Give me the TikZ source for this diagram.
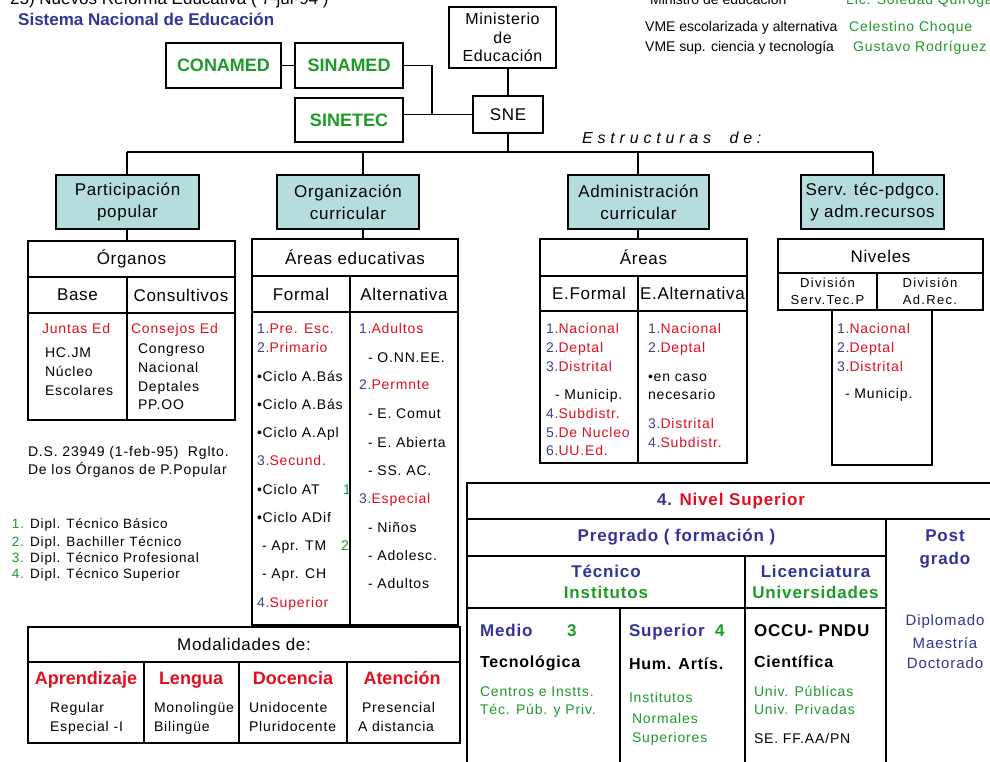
\documentclass[tikz,border=0pt]{standalone}
\usepackage{fontspec}
\setmainfont{Liberation Sans}
\newfontfamily\fsp[LetterSpace=6]{Liberation Sans}
\newfontfamily\fhd[LetterSpace=4]{Liberation Sans}
\newfontfamily\fsm[LetterSpace=10]{Liberation Sans}
\newfontfamily\fes[LetterSpace=30]{Liberation Sans}
\newfontfamily\fbs[LetterSpace=5]{Liberation Sans}
\definecolor{dblue}{HTML}{333399}
\definecolor{nblue}{HTML}{404090}
\definecolor{cred}{HTML}{E01020}
\definecolor{cgreen}{HTML}{1E9A28}
\definecolor{boxteal}{HTML}{B5DDDE}
\newcommand\fs[1]{\fontsize{#1}{#1}\selectfont}
\newcommand\nb[1]{\textcolor{nblue}{#1}}
\newcommand\rd[1]{\textcolor{cred}{#1}}
\newcommand\gr[1]{\textcolor{cgreen}{#1}}
\newcommand\tcell[7][]{\node[cellb,#1,minimum width={#5-#3},minimum height={#6-#4}] (#2) at ({(#3+#5)/2},{(#4+#6)/2}) {#7};}
\tikzset{
  cellb/.style={draw, line width=1.2pt, inner sep=0pt, outer sep=0pt, align=center},
  nsb/.style={line width=2pt},
  bluebox/.style={fill=boxteal},
  bhf/.style={font=\fhd\fontsize{17}{22}\selectfont},
  hdr/.style={font=\fhd\fs{17}},
  conn/.style={line width=1.2pt},
  tx/.style={anchor=base west, inner sep=0pt, outer sep=0pt, font=\fsp\fs{14}},
  txs/.style={anchor=base west, inner sep=0pt, outer sep=0pt, font=\fsp\fs{13.5}},
  bt/.style={anchor=base west, inner sep=0pt, outer sep=0pt, font=\fbs\bfseries\fs{17}},
  bt16/.style={anchor=base west, inner sep=0pt, outer sep=0pt, font=\fbs\bfseries\fs{16}},
  mh/.style={anchor=base, inner sep=0pt, outer sep=0pt, font=\bfseries\fs{18}, text=cred},
}
\begin{document}
\begin{tikzpicture}[x=1pt,y=-1pt]
\useasboundingbox (0,0) rectangle (990,761);
\clip (0,0) rectangle (990,761);
\fill[white] (0,0) rectangle (990,761);

% top texts
\node[anchor=base west, inner sep=0pt, font=\fs{17}] (top1) at (10,4) {25) Nuevos Reforma Educativa ( 7-jul-94 )};
\node[anchor=base west, inner sep=0pt, font=\bfseries\fs{17}, text=dblue] (title) at (18,25) {Sistema Nacional de Educación};
\node[anchor=base west, inner sep=0pt, font=\fs{14}] (mr) at (650,4) {Ministro de educación};
\node[anchor=base west, inner sep=0pt, font=\fsp\fs{14}, text=cgreen] (mrn) at (846,4) {Lic. Soledad Quiroga Trigo};
\node[anchor=base west, inner sep=0pt, font=\fs{14}] (vme1) at (645,31) {VME escolarizada y alternativa};
\node[anchor=base west, inner sep=0pt, font=\fsp\fs{14}, text=cgreen] (vme1n) at (849,31) {Celestino Choque};
\node[anchor=base west, inner sep=0pt, font=\fs{14}] (vme2) at (645,51) {VME sup. ciencia y tecnología};
\node[anchor=base west, inner sep=0pt, font=\fsp\fs{14}, text=cgreen] (vme2n) at (853,51) {Gustavo Rodríguez};

% top boxes
\tcell[font=\bfseries\fs{18}, text=cgreen]{conamed}{166}{43}{281}{88}{CONAMED}
\tcell[font=\bfseries\fs{18}, text=cgreen]{sinamed}{295}{43}{403}{88}{SINAMED}
\tcell[font=\bfseries\fs{18}, text=cgreen]{sinetec}{295}{98}{403}{142}{SINETEC}
\tcell[font=\fhd\fontsize{16}{18.5}\selectfont]{min}{449}{7}{556}{68}{Ministerio\\de\\Educación}
\tcell[font=\fhd\fs{17}]{sne}{473}{96}{543}{133}{SNE}
\coordinate (j1) at (432,114.5);
\coordinate (bL) at (127,152);
\coordinate (bO) at (363,152);
\coordinate (bA) at (638,152);
\coordinate (bR) at (873,152);
\draw[conn] (conamed.east) -- (conamed.east -| sinamed.west);
\draw[conn] (sinamed.east) -| (j1) -- (sne.west);
\draw[conn] (sinetec.east |- sne.west) -- (sne.west);
\draw[conn] (sne.north |- min.south) -- (sne.north);
\draw[conn] (sne.south) -- (sne.south |- bL);
\draw[conn] (bL) -- (bR);

\node[anchor=base west, inner sep=0pt, font=\fes\itshape\fs{16}] (estr) at (582,143.5) {Estructuras\ \ de:};

% blue boxes
\tcell[bluebox,bhf]{part}{56}{175}{199}{229}{Participación\\popular}
\tcell[bluebox,bhf]{org}{277}{175}{419}{229}{Organización\\curricular}
\tcell[bluebox,bhf]{adm}{568}{175}{709}{229}{Administración\\curricular}
\tcell[bluebox,bhf]{serv}{801}{175}{944}{229}{Serv. téc-pdgco.\\y adm.recursos}
\draw[conn] (bL) -- (bL |- part.north);
\draw[conn] (bO) -- (bO |- org.north);
\draw[conn] (bA) -- (bA |- adm.north);
\draw[conn] (bR) -- (bR |- serv.north);

% Organos table
\tcell[hdr]{orgh}{28}{241}{235}{277}{Órganos}
\tcell[hdr]{orgb}{28}{277}{127}{313}{Base}
\tcell[hdr]{orgc}{127}{277}{235}{313}{Consultivos}
\tcell{orgbc}{28}{313}{127}{420}{}
\tcell{orgcc}{127}{313}{235}{420}{}
\draw[conn] (bL |- part.south) -- (bL |- orgh.north);
\node[tx] (t1) at (42,333) {\rd{Juntas Ed}};
\node[tx] (t2) at (45,357) {HC.JM};
\node[tx] (t3) at (45,376) {Núcleo};
\node[tx] (t4) at (45,395) {Escolares};
\node[tx] (t5) at (131,333) {\rd{Consejos Ed}};
\node[tx] (t6) at (138,353) {Congreso};
\node[tx] (t7) at (138,372) {Nacional};
\node[tx] (t8) at (138,391) {Deptales};
\node[tx] (t9) at (138,409) {PP.OO};
\node[tx] (t10) at (28,456) {D.S. 23949 (1-feb-95)\ \ Rglto.};
\node[tx] (t11) at (28,474) {De los Órganos de P.Popular};

% Areas educativas table
\tcell[hdr]{aeh}{252}{239}{458}{276}{Áreas educativas}
\tcell[hdr]{aef}{252}{276}{350}{312}{Formal}
\tcell[hdr]{aea}{350}{276}{458}{312}{Alternativa}
\tcell{aefc}{252}{312}{350}{625}{}
\tcell{aeac}{350}{312}{458}{625}{}
\draw[conn] (bO |- org.south) -- (bO |- aeh.north);
\node[tx] (f1) at (257,333) {\nb{1.}\rd{Pre. Esc.}};
\node[tx] (f2) at (257,352) {\nb{2.}\rd{Primario}};
\node[tx] (f3) at (257,381) {•Ciclo A.Bás};
\node[tx] (f4) at (257,409) {•Ciclo A.Bás};
\node[tx] (f5) at (257,437) {•Ciclo A.Apl};
\node[tx] (f6) at (257,465) {\nb{3.}\rd{Secund.}};
\node[tx] (f7) at (257,494) {•Ciclo AT};
\node[tx] (f7n) at (343,494) {\gr{1}};
\node[tx] (f8) at (257,522) {•Ciclo ADif};
\node[tx] (f9) at (262,550) {- Apr. TM};
\node[tx] (f9n) at (341,550) {\gr{2}};
\node[tx] (f10) at (262,578) {- Apr. CH};
\node[tx] (f11) at (257,607) {\nb{4.}\rd{Superior}};
\node[tx] (a1) at (359,333) {\nb{1.}\rd{Adultos}};
\node[tx] (a2) at (368,362) {- O.NN.EE.};
\node[tx] (a3) at (359,389) {\nb{2.}\rd{Permnte}};
\node[tx] (a4) at (368,418) {- E. Comut};
\node[tx] (a5) at (368,447) {- E. Abierta};
\node[tx] (a6) at (368,475) {- SS. AC.};
\node[tx] (a7) at (359,503) {\nb{3.}\rd{Especial}};
\node[tx] (a8) at (368,532) {- Niños};
\node[tx] (a9) at (368,560) {- Adolesc.};
\node[tx] (a10) at (368,588) {- Adultos};

% Areas table
\tcell[hdr]{arh}{540}{239}{747}{276}{Áreas}
\tcell[hdr]{arf}{540}{276}{638}{311}{E.Formal}
\tcell[hdr]{ara}{638}{276}{747}{311}{E.Alternativa}
\tcell{arfc}{540}{311}{638}{463}{}
\tcell{arac}{638}{311}{747}{463}{}
\draw[conn] (bA |- adm.south) -- (bA |- arh.north);
\node[tx] (r1) at (546,333) {\nb{1.}\rd{Nacional}};
\node[tx] (r2) at (546,352) {\nb{2.}\rd{Deptal}};
\node[tx] (r3) at (546,371) {\nb{3.}\rd{Distrital}};
\node[tx] (r4) at (555,399) {- Municip.};
\node[tx] (r5) at (546,418) {\nb{4.}\rd{Subdistr.}};
\node[tx] (r6) at (546,437) {\nb{5.}\rd{De Nucleo}};
\node[tx] (r7) at (546,455) {\nb{6.}\rd{UU.Ed.}};
\node[tx] (s1) at (648,333) {\nb{1.}\rd{Nacional}};
\node[tx] (s2) at (648,352) {\nb{2.}\rd{Deptal}};
\node[tx] (s3) at (648,381) {•en caso};
\node[tx] (s4) at (648,399) {necesario};
\node[tx] (s5) at (648,428) {\nb{3.}\rd{Distrital}};
\node[tx] (s6) at (648,447) {\nb{4.}\rd{Subdistr.}};

% Niveles table
\tcell[hdr]{nivh}{778}{239}{983}{273}{Niveles}
\tcell[font=\fsm\fontsize{13}{17}\selectfont]{niv1}{778}{273}{877}{310}{División\\Serv.Tec.P}
\tcell[font=\fsm\fontsize{13}{17}\selectfont]{niv2}{877}{273}{983}{310}{División\\Ad.Rec.}
\tcell{nivc}{832}{310}{932}{465}{}
\node[tx] (v1) at (837,333) {\nb{1.}\rd{Nacional}};
\node[tx] (v2) at (837,352) {\nb{2.}\rd{Deptal}};
\node[tx] (v3) at (837,371) {\nb{3.}\rd{Distrital}};
\node[tx] (v4) at (845,398) {- Municip.};

% Dipl list
\node[txs] (d1) at (12,528) {\gr{1.} Dipl. Técnico Básico};
\node[txs] (d2) at (12,546) {\gr{2.} Dipl. Bachiller Técnico};
\node[txs] (d3) at (12,562) {\gr{3.} Dipl. Técnico Profesional};
\node[txs] (d4) at (12,578) {\gr{4.} Dipl. Técnico Superior};

% Modalidades
\tcell[hdr]{modh}{28}{627}{460}{662}{Modalidades de:}
\tcell{mod1}{28}{662}{144}{743}{}
\tcell{mod2}{144}{662}{239}{743}{}
\tcell{mod3}{239}{662}{347}{743}{}
\tcell{mod4}{347}{662}{460}{743}{}
\node[mh] (mh1) at (86,684) {Aprendizaje};
\node[mh] (mh2) at (191,684) {Lengua};
\node[mh] (mh3) at (293,684) {Docencia};
\node[mh] (mh4) at (402,684) {Atención};
\node[tx] (m1) at (50,712) {Regular};
\node[tx] (m2) at (50,731) {Especial -I};
\node[tx] (m3) at (154,712) {Monolingüe};
\node[tx] (m4) at (154,731) {Bilingüe};
\node[tx] (m5) at (249,712) {Unidocente};
\node[tx] (m6) at (249,731) {Pluridocente};
\node[tx] (m7) at (362,712) {Presencial};
\node[tx] (m8) at (358,731) {A distancia};

% Nivel Superior table
\tcell[nsb, font=\fbs\bfseries\fs{17}]{nsh}{467}{483}{995}{519}{\textcolor{dblue}{4.} \rd{Nivel Superior}}
\tcell[nsb, font=\fbs\bfseries\fs{17}, text=dblue]{nspre}{467}{519}{886}{556}{Pregrado ( formación )}
\tcell[nsb]{nspost}{886}{519}{995}{775}{}
\tcell[nsb, font=\fbs\bfseries\fontsize{17}{21}\selectfont]{nstec}{467}{556}{745}{608}{\textcolor{dblue}{Técnico}\\\gr{Institutos}}
\tcell[nsb, font=\fbs\bfseries\fontsize{17}{21}\selectfont]{nslic}{745}{556}{886}{608}{\textcolor{dblue}{Licenciatura}\\\gr{Universidades}}
\tcell[nsb]{nsmed}{467}{608}{620}{775}{}
\tcell[nsb]{nssup}{620}{608}{745}{775}{}
\tcell[nsb]{nsocc}{745}{608}{886}{775}{}
\node[anchor=base, inner sep=0pt, font=\fbs\bfseries\fs{17}, text=dblue] (pg1) at (945,541) {Post};
\node[anchor=base, inner sep=0pt, font=\fbs\bfseries\fs{17}, text=dblue] (pg2) at (945,564) {grado};
\node[anchor=base, inner sep=0pt, font=\fsp\fs{15}, text=dblue] (pg3) at (945,625) {Diplomado};
\node[anchor=base, inner sep=0pt, font=\fsp\fs{15}, text=dblue] (pg4) at (945,648) {Maestría};
\node[anchor=base, inner sep=0pt, font=\fsp\fs{15}, text=dblue] (pg5) at (945,668) {Doctorado};
\node[bt, text=dblue] (med1) at (480,636) {Medio};
\node[bt, text=cgreen] (med3) at (567,636) {3};
\node[bt16] (med2) at (480,667) {Tecnológica};
\node[tx, text=cgreen] (med4) at (480,696) {Centros e Instts.};
\node[tx, text=cgreen] (med5) at (480,714) {Téc. Púb. y Priv.};
\node[bt, text=dblue] (sup1) at (629,636) {Superior};
\node[bt, text=cgreen] (sup4) at (715,636) {4};
\node[bt16] (sup2) at (629,669) {Hum. Artís.};
\node[tx, text=cgreen] (sup3) at (629,702) {Institutos};
\node[tx, text=cgreen] (sup5) at (632,723) {Normales};
\node[tx, text=cgreen] (sup6) at (632,742) {Superiores};
\node[bt] (oc1) at (754,636) {OCCU- PNDU};
\node[bt16] (oc2) at (754,667) {Científica};
\node[tx, text=cgreen] (oc3) at (754,696) {Univ. Públicas};
\node[tx, text=cgreen] (oc4) at (754,714) {Univ. Privadas};
\node[tx] (oc5) at (754,743) {SE. FF.AA/PN};
\end{tikzpicture}
\end{document}
